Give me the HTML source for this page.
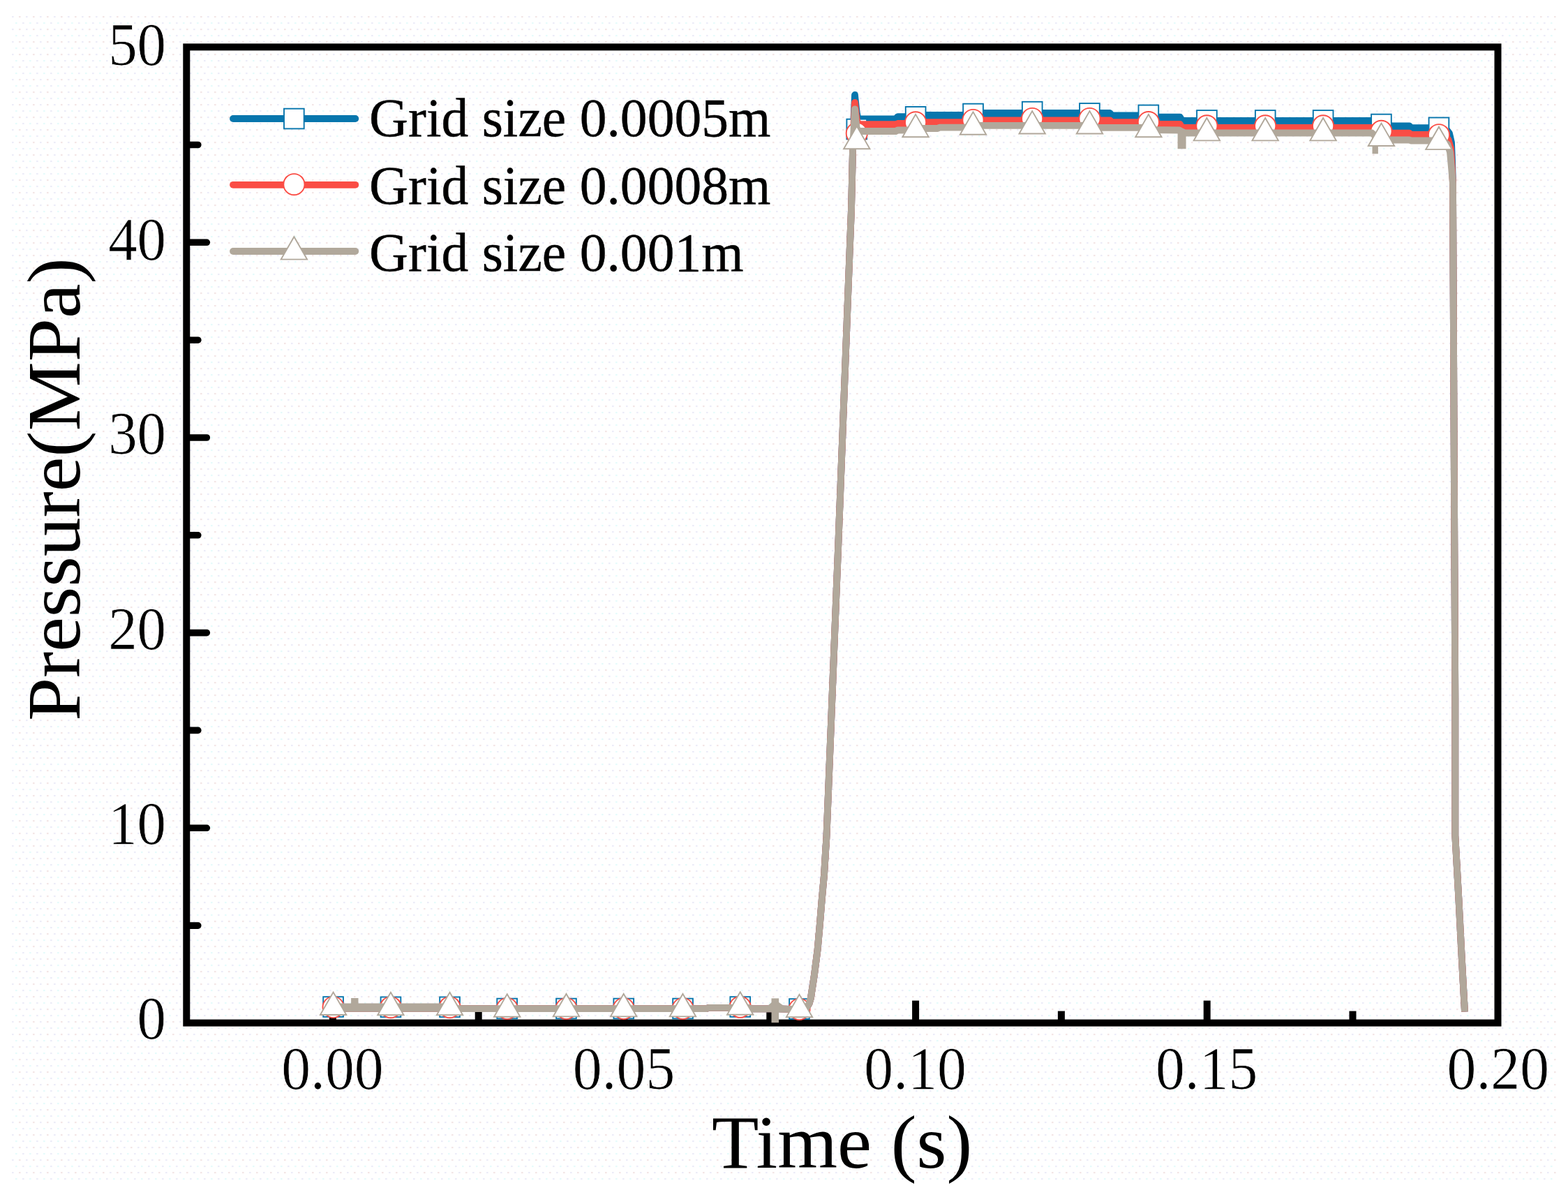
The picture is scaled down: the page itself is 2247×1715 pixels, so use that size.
<!DOCTYPE html>
<html lang="en"><head><meta charset="utf-8"><title>Pressure vs Time - grid size comparison</title>
<style>
html,body{margin:0;padding:0;background:#ffffff;}
body{width:2247px;height:1715px;overflow:hidden;}
svg{display:block;}
text{font-family:"Liberation Serif", "DejaVu Serif", serif;fill:#000;}
.tick{font-size:87.5px;stroke:#fff;stroke-width:0.7px;}
.title{font-size:108px;}
.leg{font-size:77.6px;stroke:#000;stroke-width:0.4px;}
</style></head><body>
<svg width="2247" height="1715" viewBox="0 0 2247 1715" role="img" aria-label="Pressure versus time for three grid sizes">
<rect x="0" y="0" width="2247" height="1715" fill="#ffffff"/>
<defs>
<pattern id="dth" x="17" y="23" width="20" height="18" patternUnits="userSpaceOnUse">
<rect x="0" y="0" width="2.6" height="2.2" fill="#ececf8"/>
<rect x="10" y="0" width="2.6" height="2.2" fill="#f3e6e6"/>
<rect x="5" y="9" width="2.6" height="2.2" fill="#e6fbfb"/>
<rect x="15" y="9" width="2.6" height="2.2" fill="#ececf8"/>
</pattern>
</defs>
<rect x="16" y="22" width="2215" height="1675" fill="url(#dth)"/>
<g stroke="#000" stroke-width="10.0" fill="none" stroke-linecap="butt">
<rect x="267.3" y="67.4" width="1879.2" height="1398.2"/>
</g>
<g stroke="#000" stroke-width="9.6" fill="none" stroke-linecap="round">
<line x1="272.3" y1="1326.1" x2="283.8" y2="1326.1"/>
<line x1="272.3" y1="1186.3" x2="296.3" y2="1186.3"/>
<line x1="272.3" y1="1046.4" x2="283.8" y2="1046.4"/>
<line x1="272.3" y1="906.6" x2="296.3" y2="906.6"/>
<line x1="272.3" y1="766.8" x2="283.8" y2="766.8"/>
<line x1="272.3" y1="627.0" x2="296.3" y2="627.0"/>
<line x1="272.3" y1="487.2" x2="283.8" y2="487.2"/>
<line x1="272.3" y1="347.3" x2="296.3" y2="347.3"/>
<line x1="272.3" y1="207.5" x2="283.8" y2="207.5"/>
</g>
<g stroke="#000" stroke-width="10.0" fill="none" stroke-linecap="butt">
<line x1="476.9" y1="1461.6" x2="476.9" y2="1433.6"/>
<line x1="685.7" y1="1461.6" x2="685.7" y2="1448.6"/>
<line x1="894.5" y1="1461.6" x2="894.5" y2="1433.6"/>
<line x1="1103.3" y1="1461.6" x2="1103.3" y2="1448.6"/>
<line x1="1312.1" y1="1461.6" x2="1312.1" y2="1433.6"/>
<line x1="1520.9" y1="1461.6" x2="1520.9" y2="1448.6"/>
<line x1="1729.7" y1="1461.6" x2="1729.7" y2="1433.6"/>
<line x1="1938.5" y1="1461.6" x2="1938.5" y2="1448.6"/>
</g>
<polyline points="476.1,1444.9 640.0,1444.9 652.0,1445.2 1012.0,1445.2 1016.0,1443.8 1072.0,1443.8 1078.0,1445.4 1105.0,1445.4 1116.0,1445.4 1150.0,1446.5 1155.5,1444.5 1159.5,1438.0 1161.8,1430.4 1167.0,1396.4 1171.6,1360.7 1174.8,1325.0 1177.7,1289.3 1181.0,1253.6 1183.2,1217.9 1184.4,1200.0 1201.5,775.0 1217.3,368.0 1220.0,300.0 1222.0,216.0 1223.5,170.0 1225.0,136.0 1227.5,160.0 1229.5,170.4 1232.5,170.4 1283.5,170.4 1286.5,167.2 1310.6,167.2 1313.6,164.8 1393.0,164.8 1396.0,162.0 1590.5,162.0 1593.5,165.3 1644.4,165.3 1647.4,167.7 1691.0,167.7 1694.0,172.8 1978.0,172.8 1981.0,180.3 2019.5,180.3 2022.5,183.2 2066.0,183.2 2072.0,184.5 2077.0,191.0 2080.0,204.0 2081.0,230.0 2082.0,263.0 2085.3,1000.0 2085.3,1197.0 2090.3,1286.0 2094.7,1371.0 2099.0,1449.5" fill="none" stroke="#0776ad" stroke-width="9.8" stroke-linejoin="round" stroke-linecap="butt"/>
<polyline points="1232.5,173.9 1283.5,173.9 1286.5,170.7 1310.6,170.7 1313.6,168.3 1393.0,168.3 1396.0,165.5 1590.5,165.5 1593.5,168.8 1644.4,168.8 1647.4,171.2 1691.0,171.2 1694.0,176.3 1978.0,176.3 1981.0,183.8 2019.5,183.8 2022.5,186.7" fill="none" stroke="#0776ad" stroke-width="9.8" stroke-linejoin="round" stroke-linecap="butt"/>
<rect x="463.2" y="1428.2" width="28.7" height="28.7" fill="#fff" stroke="#0776ad" stroke-width="1.9"/>
<rect x="545.6" y="1428.5" width="28.7" height="28.7" fill="#fff" stroke="#0776ad" stroke-width="1.9"/>
<rect x="630.2" y="1428.5" width="28.7" height="28.7" fill="#fff" stroke="#0776ad" stroke-width="1.9"/>
<rect x="712.3" y="1430.7" width="28.7" height="28.7" fill="#fff" stroke="#0776ad" stroke-width="1.9"/>
<rect x="797.1" y="1430.7" width="28.7" height="28.7" fill="#fff" stroke="#0776ad" stroke-width="1.9"/>
<rect x="879.4" y="1430.7" width="28.7" height="28.7" fill="#fff" stroke="#0776ad" stroke-width="1.9"/>
<rect x="964.2" y="1430.7" width="28.7" height="28.7" fill="#fff" stroke="#0776ad" stroke-width="1.9"/>
<rect x="1046.4" y="1428.2" width="28.7" height="28.7" fill="#fff" stroke="#0776ad" stroke-width="1.9"/>
<rect x="1131.1" y="1431.2" width="28.7" height="28.7" fill="#fff" stroke="#0776ad" stroke-width="1.9"/>
<rect x="1213.4" y="170.7" width="28.7" height="28.7" fill="#fff" stroke="#0776ad" stroke-width="1.9"/>
<rect x="1297.8" y="153.0" width="28.7" height="28.7" fill="#fff" stroke="#0776ad" stroke-width="1.9"/>
<rect x="1380.2" y="148.7" width="28.7" height="28.7" fill="#fff" stroke="#0776ad" stroke-width="1.9"/>
<rect x="1464.9" y="145.8" width="28.7" height="28.7" fill="#fff" stroke="#0776ad" stroke-width="1.9"/>
<rect x="1547.1" y="148.1" width="28.7" height="28.7" fill="#fff" stroke="#0776ad" stroke-width="1.9"/>
<rect x="1631.5" y="150.6" width="28.7" height="28.7" fill="#fff" stroke="#0776ad" stroke-width="1.9"/>
<rect x="1715.1" y="158.1" width="28.7" height="28.7" fill="#fff" stroke="#0776ad" stroke-width="1.9"/>
<rect x="1798.9" y="158.1" width="28.7" height="28.7" fill="#fff" stroke="#0776ad" stroke-width="1.9"/>
<rect x="1881.8" y="158.1" width="28.7" height="28.7" fill="#fff" stroke="#0776ad" stroke-width="1.9"/>
<rect x="1965.1" y="163.7" width="28.7" height="28.7" fill="#fff" stroke="#0776ad" stroke-width="1.9"/>
<rect x="2047.6" y="168.5" width="28.7" height="28.7" fill="#fff" stroke="#0776ad" stroke-width="1.9"/>
<polyline points="476.1,1444.9 640.0,1444.9 652.0,1445.2 1012.0,1445.2 1016.0,1443.8 1072.0,1443.8 1078.0,1445.4 1105.0,1445.4 1116.0,1445.4 1150.0,1446.5 1155.5,1444.5 1159.5,1438.0 1161.8,1430.4 1167.0,1396.4 1171.6,1360.7 1174.8,1325.0 1177.7,1289.3 1181.0,1253.6 1183.2,1217.9 1184.4,1200.0 1201.5,775.0 1217.3,368.0 1220.0,300.0 1222.0,216.0 1223.5,178.0 1225.0,147.0 1227.5,170.0 1229.5,177.8 1232.5,178.2 1283.5,178.2 1286.5,177.0 1310.6,177.0 1313.6,175.2 1393.0,175.2 1396.0,172.3 1590.5,172.3 1593.5,175.2 1644.4,175.2 1647.4,178.0 1691.0,178.0 1694.0,183.0 1978.0,183.0 1981.0,190.6 2019.5,190.6 2022.5,192.9 2064.0,192.7 2070.0,194.0 2075.5,200.0 2079.0,212.0 2080.5,235.0 2082.0,263.0 2085.3,1000.0 2085.3,1197.0 2090.3,1286.0 2094.7,1371.0 2099.0,1449.5" fill="none" stroke="#fa4d45" stroke-width="9.8" stroke-linejoin="round" stroke-linecap="butt"/>
<polyline points="1232.5,181.7 1283.5,181.7 1286.5,180.5 1310.6,180.5 1313.6,178.7 1393.0,178.7 1396.0,175.8 1590.5,175.8 1593.5,178.7 1644.4,178.7 1647.4,181.5 1691.0,181.5 1694.0,186.5 1978.0,186.5 1981.0,194.1 2019.5,194.1 2022.5,196.4 2064.0,196.2" fill="none" stroke="#fa4d45" stroke-width="9.8" stroke-linejoin="round" stroke-linecap="butt"/>
<circle cx="477.6" cy="1443.0" r="15.1" fill="#fff" stroke="#fa4d45" stroke-width="1.9"/>
<circle cx="559.9" cy="1443.2" r="15.1" fill="#fff" stroke="#fa4d45" stroke-width="1.9"/>
<circle cx="644.5" cy="1443.2" r="15.1" fill="#fff" stroke="#fa4d45" stroke-width="1.9"/>
<circle cx="726.7" cy="1445.0" r="15.1" fill="#fff" stroke="#fa4d45" stroke-width="1.9"/>
<circle cx="811.5" cy="1445.0" r="15.1" fill="#fff" stroke="#fa4d45" stroke-width="1.9"/>
<circle cx="893.7" cy="1445.0" r="15.1" fill="#fff" stroke="#fa4d45" stroke-width="1.9"/>
<circle cx="978.5" cy="1445.0" r="15.1" fill="#fff" stroke="#fa4d45" stroke-width="1.9"/>
<circle cx="1060.7" cy="1442.8" r="15.1" fill="#fff" stroke="#fa4d45" stroke-width="1.9"/>
<circle cx="1145.5" cy="1446.0" r="15.1" fill="#fff" stroke="#fa4d45" stroke-width="1.9"/>
<circle cx="1227.8" cy="191.0" r="15.1" fill="#fff" stroke="#fa4d45" stroke-width="1.9"/>
<circle cx="1312.1" cy="175.3" r="15.1" fill="#fff" stroke="#fa4d45" stroke-width="1.9"/>
<circle cx="1394.5" cy="172.0" r="15.1" fill="#fff" stroke="#fa4d45" stroke-width="1.9"/>
<circle cx="1479.2" cy="170.0" r="15.1" fill="#fff" stroke="#fa4d45" stroke-width="1.9"/>
<circle cx="1561.5" cy="170.0" r="15.1" fill="#fff" stroke="#fa4d45" stroke-width="1.9"/>
<circle cx="1645.9" cy="175.1" r="15.1" fill="#fff" stroke="#fa4d45" stroke-width="1.9"/>
<circle cx="1729.4" cy="180.4" r="15.1" fill="#fff" stroke="#fa4d45" stroke-width="1.9"/>
<circle cx="1813.2" cy="180.4" r="15.1" fill="#fff" stroke="#fa4d45" stroke-width="1.9"/>
<circle cx="1896.1" cy="180.4" r="15.1" fill="#fff" stroke="#fa4d45" stroke-width="1.9"/>
<circle cx="1979.5" cy="187.9" r="15.1" fill="#fff" stroke="#fa4d45" stroke-width="1.9"/>
<circle cx="2062.0" cy="193.2" r="15.1" fill="#fff" stroke="#fa4d45" stroke-width="1.9"/>
<polyline points="476.1,1444.9 640.0,1444.9 652.0,1445.2 1012.0,1445.2 1016.0,1443.8 1072.0,1443.8 1078.0,1445.4 1105.0,1445.4 1130.0,1445.8 1150.0,1446.5 1155.5,1444.5 1159.5,1438.0 1161.8,1430.4 1167.0,1396.4 1171.6,1360.7 1174.8,1325.0 1177.7,1289.3 1181.0,1253.6 1183.2,1217.9 1184.4,1200.0 1201.5,775.0 1217.3,368.0 1220.0,300.0 1222.0,216.0 1223.5,186.0 1225.0,156.5 1227.5,182.0 1229.5,188.0 1232.5,188.0 1283.5,188.0 1286.5,186.5 1310.6,186.5 1313.6,184.0 1343.5,184.0 1346.5,182.6 1393.0,182.6 1396.0,179.9 1560.0,179.9 1563.0,182.8 1644.4,182.8 1647.4,186.0 1690.0,186.5 1693.6,188.5 1698.0,190.5 1700.5,190.5 1966.0,190.5 1972.0,196.0 1976.0,200.5 1978.5,200.5 2019.5,200.5 2022.5,201.5 2062.0,201.5 2069.0,202.5 2074.5,207.0 2078.0,218.0 2080.0,240.0 2082.0,263.0 2085.3,1000.0 2085.3,1197.0 2090.3,1286.0 2094.7,1371.0 2099.0,1449.5" fill="none" stroke="#b1a89b" stroke-width="9.8" stroke-linejoin="round" stroke-linecap="butt"/>
<line x1="476.1" y1="1442.5" x2="648.0" y2="1442.5" stroke="#b1a89b" stroke-width="9.8" stroke-linecap="butt"/>
<line x1="508.3" y1="1430.0" x2="508.3" y2="1445.0" stroke="#b1a89b" stroke-width="10.4" stroke-linecap="butt"/>
<line x1="1110.8" y1="1430.4" x2="1110.8" y2="1465.2" stroke="#b1a89b" stroke-width="10.6" stroke-linecap="butt"/>
<polygon points="1100,1441 1106,1436 1116,1436 1123,1441" fill="#b1a89b"/>
<line x1="1693.6" y1="186.0" x2="1693.6" y2="213.3" stroke="#b1a89b" stroke-width="12.0" stroke-linecap="butt"/>
<line x1="1970.7" y1="196.0" x2="1970.7" y2="220.4" stroke="#b1a89b" stroke-width="8.4" stroke-linecap="butt"/>
<polygon points="477.6,1421.6 496.3,1454.0 458.9,1454.0" fill="#fff" stroke="#b1a89b" stroke-width="1.9" stroke-linejoin="miter"/>
<polygon points="559.9,1421.8 578.6,1454.2 541.2,1454.2" fill="#fff" stroke="#b1a89b" stroke-width="1.9" stroke-linejoin="miter"/>
<polygon points="644.5,1421.8 663.2,1454.2 625.8,1454.2" fill="#fff" stroke="#b1a89b" stroke-width="1.9" stroke-linejoin="miter"/>
<polygon points="726.7,1424.3 745.4,1456.7 708.0,1456.7" fill="#fff" stroke="#b1a89b" stroke-width="1.9" stroke-linejoin="miter"/>
<polygon points="811.5,1424.0 830.2,1456.4 792.8,1456.4" fill="#fff" stroke="#b1a89b" stroke-width="1.9" stroke-linejoin="miter"/>
<polygon points="893.7,1424.0 912.4,1456.4 875.0,1456.4" fill="#fff" stroke="#b1a89b" stroke-width="1.9" stroke-linejoin="miter"/>
<polygon points="978.5,1424.0 997.2,1456.4 959.8,1456.4" fill="#fff" stroke="#b1a89b" stroke-width="1.9" stroke-linejoin="miter"/>
<polygon points="1060.7,1421.3 1079.4,1453.7 1042.0,1453.7" fill="#fff" stroke="#b1a89b" stroke-width="1.9" stroke-linejoin="miter"/>
<polygon points="1145.5,1424.9 1164.2,1457.3 1126.8,1457.3" fill="#fff" stroke="#b1a89b" stroke-width="1.9" stroke-linejoin="miter"/>
<polygon points="1227.8,180.9 1246.5,213.3 1209.1,213.3" fill="#fff" stroke="#b1a89b" stroke-width="1.9" stroke-linejoin="miter"/>
<polygon points="1312.1,163.9 1330.8,196.3 1293.4,196.3" fill="#fff" stroke="#b1a89b" stroke-width="1.9" stroke-linejoin="miter"/>
<polygon points="1394.5,160.4 1413.2,192.8 1375.8,192.8" fill="#fff" stroke="#b1a89b" stroke-width="1.9" stroke-linejoin="miter"/>
<polygon points="1479.2,159.1 1497.9,191.5 1460.5,191.5" fill="#fff" stroke="#b1a89b" stroke-width="1.9" stroke-linejoin="miter"/>
<polygon points="1561.5,159.1 1580.2,191.5 1542.8,191.5" fill="#fff" stroke="#b1a89b" stroke-width="1.9" stroke-linejoin="miter"/>
<polygon points="1645.9,163.9 1664.6,196.3 1627.2,196.3" fill="#fff" stroke="#b1a89b" stroke-width="1.9" stroke-linejoin="miter"/>
<polygon points="1729.4,169.0 1748.1,201.4 1710.7,201.4" fill="#fff" stroke="#b1a89b" stroke-width="1.9" stroke-linejoin="miter"/>
<polygon points="1813.2,169.0 1831.9,201.4 1794.5,201.4" fill="#fff" stroke="#b1a89b" stroke-width="1.9" stroke-linejoin="miter"/>
<polygon points="1896.1,169.0 1914.8,201.4 1877.4,201.4" fill="#fff" stroke="#b1a89b" stroke-width="1.9" stroke-linejoin="miter"/>
<polygon points="1979.5,176.6 1998.2,209.0 1960.8,209.0" fill="#fff" stroke="#b1a89b" stroke-width="1.9" stroke-linejoin="miter"/>
<polygon points="2062.0,181.7 2080.7,214.1 2043.3,214.1" fill="#fff" stroke="#b1a89b" stroke-width="1.9" stroke-linejoin="miter"/>
<text class="tick" transform="translate(238,1488.4) scale(0.947,1)" text-anchor="end">0</text>
<text class="tick" transform="translate(238,1209.2) scale(0.947,1)" text-anchor="end">10</text>
<text class="tick" transform="translate(238,929.9) scale(0.947,1)" text-anchor="end">20</text>
<text class="tick" transform="translate(238,650.3) scale(0.947,1)" text-anchor="end">30</text>
<text class="tick" transform="translate(238,371.6) scale(0.947,1)" text-anchor="end">40</text>
<text class="tick" transform="translate(238,92.6) scale(0.947,1)" text-anchor="end">50</text>
<text class="tick" transform="translate(476.4,1559.6) scale(0.957,1)" text-anchor="middle">0.00</text>
<text class="tick" transform="translate(894.0,1559.6) scale(0.957,1)" text-anchor="middle">0.05</text>
<text class="tick" transform="translate(1311.6,1559.6) scale(0.957,1)" text-anchor="middle">0.10</text>
<text class="tick" transform="translate(1729.2,1559.6) scale(0.957,1)" text-anchor="middle">0.15</text>
<text class="tick" transform="translate(2146.8,1559.6) scale(0.957,1)" text-anchor="middle">0.20</text>
<text class="title" transform="translate(1206.6,1673) scale(1.022,1)" text-anchor="middle">Time (s)</text>
<text class="title" transform="translate(114,701.2) rotate(-90) scale(1.034,1)" text-anchor="middle">Pressure(MPa)</text>
<line x1="334" y1="170.0" x2="509.3" y2="170.0" stroke="#0776ad" stroke-width="9.8" stroke-linecap="round"/>
<rect x="407.0" y="155.7" width="28.7" height="28.7" fill="#fff" stroke="#0776ad" stroke-width="1.9"/>
<text class="leg" x="529" y="195.1">Grid size 0.0005m</text>
<line x1="334" y1="264.8" x2="509.3" y2="264.8" stroke="#fa4d45" stroke-width="9.8" stroke-linecap="round"/>
<circle cx="421.4" cy="264.2" r="15.1" fill="#fff" stroke="#fa4d45" stroke-width="1.9"/>
<text class="leg" x="529" y="291.6">Grid size 0.0008m</text>
<line x1="334" y1="360.0" x2="509.3" y2="360.0" stroke="#b1a89b" stroke-width="9.8" stroke-linecap="round"/>
<polygon points="421.4,339.2 440.1,371.6 402.7,371.6" fill="#fff" stroke="#b1a89b" stroke-width="1.9" stroke-linejoin="miter"/>
<text class="leg" x="529" y="387.8">Grid size 0.001m</text>
</svg>
</body></html>
